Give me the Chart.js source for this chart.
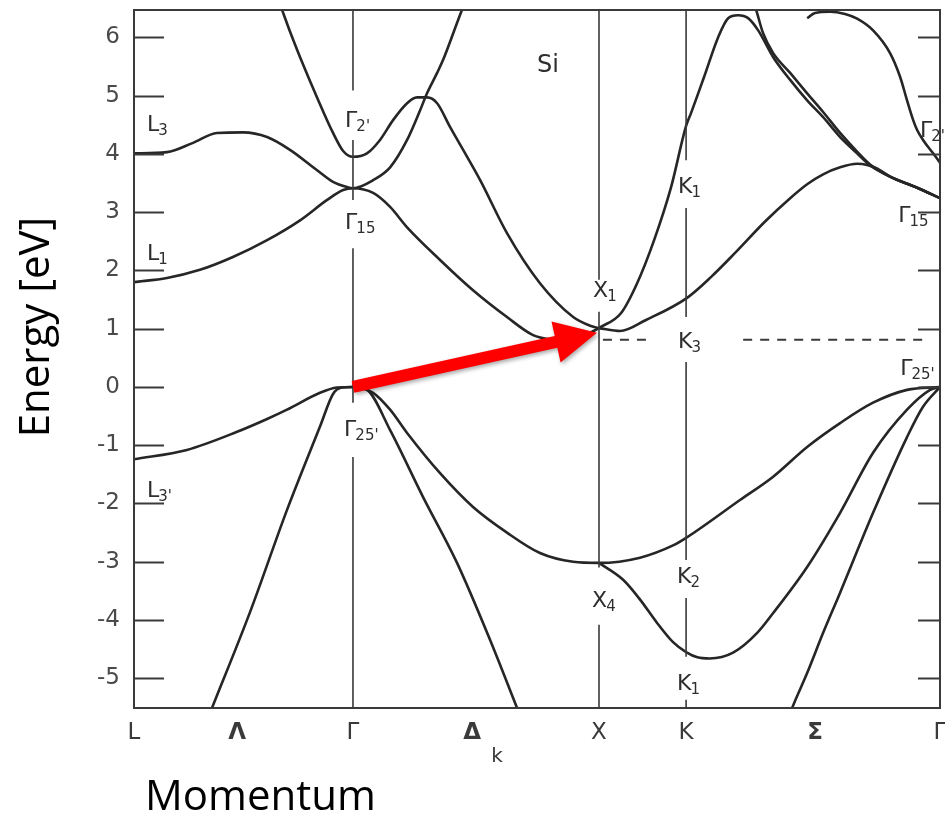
<!DOCTYPE html>
<html>
<head>
<meta charset="utf-8">
<script src="https://cdn.jsdelivr.net/npm/chart.js@4/dist/chart.umd.min.js"></script>
<style>
  html, body { margin: 0; padding: 0; background: #fff; }
</style>
</head>
<body>
<canvas id="bands" width="945" height="813"></canvas>
<script>
// Silicon band structure along L – Γ – X – K – Γ (momentum in units of 2π/a)
const kL = 0, kGamma = 0.890, kX = 1.890, kK = 2.244, kGammaEnd = 3.276;

const xTickValues = [0, 0.419, 0.890, 1.374, 1.890, 2.244, 2.768, 3.276];
const xTickLabels = ['L', 'Λ', 'Γ', 'Δ', 'X', 'K', 'Σ', 'Γ'];
const boldTickLabels = ['Λ', 'Δ', 'Σ'];
const yTickValues = [-5, -4, -3, -2, -1, 0, 1, 2, 3, 4, 5, 6];
const yTickLabels = ['-5', '-4', '-3', '-2', '-1', '0', '1', '2', '3', '4', '5', '6'];
const eMin = -5.51, eMax = 6.47;

// ---- conduction bands ----
// Γ2' branch: steep descent into Γ2', bump along Δ, down to X1
const kG2 = [0.573, 0.602, 0.634, 0.675, 0.744, 0.809, 0.850, 0.890, 0.947, 1.000, 1.053, 1.110, 1.150, 1.191, 1.232, 1.285, 1.354, 1.407, 1.516, 1.650, 1.785, 1.854, 1.890];
const eG2 = [6.80, 6.47, 6.10, 5.66, 4.97, 4.36, 4.05, 3.95, 4.01, 4.24, 4.58, 4.87, 4.97, 4.97, 4.87, 4.46, 3.95, 3.55, 2.64, 1.78, 1.20, 1.05, 1.01];
// L3 → Γ15 → steep Δ branch
const kL3 = [0, 0.134, 0.240, 0.337, 0.443, 0.541, 0.634, 0.744, 0.809, 0.866, 0.890, 0.972, 1.041, 1.110, 1.163, 1.191, 1.232, 1.256, 1.333, 1.350];
const eL3 = [4.01, 4.03, 4.19, 4.36, 4.37, 4.29, 4.07, 3.72, 3.52, 3.43, 3.41, 3.55, 3.77, 4.24, 4.75, 5.04, 5.39, 5.61, 6.47, 6.64];
// L1 → Γ15 → lowest Δ1 band → X1
const kL1 = [0, 0.134, 0.268, 0.402, 0.541, 0.675, 0.785, 0.850, 0.890, 0.972, 1.041, 1.110, 1.244, 1.378, 1.516, 1.622, 1.691, 1.752, 1.813, 1.862, 1.890];
const eL1 = [1.80, 1.87, 2.01, 2.23, 2.52, 2.86, 3.21, 3.38, 3.41, 3.33, 3.09, 2.74, 2.18, 1.66, 1.20, 0.89, 0.82, 0.81, 0.86, 0.95, 1.01];
// X1 → K1 → maximum → Γ15
const kX1a = [1.890, 1.980, 2.045, 2.114, 2.183, 2.244, 2.264, 2.317, 2.374, 2.415, 2.455, 2.496, 2.537, 2.598, 2.667, 2.736, 2.801, 2.870, 2.939, 2.992, 3.073, 3.183, 3.276];
const eX1a = [1.01, 1.27, 1.78, 2.52, 3.43, 4.48, 4.70, 5.32, 6.00, 6.33, 6.38, 6.33, 6.12, 5.66, 5.27, 4.92, 4.63, 4.29, 4.01, 3.80, 3.61, 3.42, 3.24];
// band entering from above near K → Γ15
const kTop = [2.520, 2.533, 2.557, 2.598, 2.667, 2.736, 2.801, 2.870, 2.939, 2.992, 3.073, 3.183, 3.276];
const eTop = [6.59, 6.41, 6.07, 5.73, 5.39, 5.04, 4.72, 4.36, 4.04, 3.82, 3.61, 3.42, 3.24];
// X1 → K3 → Σ → Γ15
const kX1b = [1.890, 1.976, 2.081, 2.248, 2.346, 2.443, 2.565, 2.667, 2.736, 2.801, 2.870, 2.939, 2.980, 3.020, 3.073, 3.183, 3.276];
const eX1b = [1.01, 0.96, 1.15, 1.53, 1.89, 2.30, 2.84, 3.24, 3.48, 3.65, 3.77, 3.83, 3.81, 3.75, 3.61, 3.42, 3.24];
// Σ branch reaching Γ2'
const kSig2 = [2.736, 2.768, 2.829, 2.890, 2.939, 3.004, 3.073, 3.114, 3.142, 3.167, 3.183, 3.207, 3.248, 3.276];
const eSig2 = [6.33, 6.42, 6.44, 6.40, 6.32, 6.12, 5.73, 5.32, 4.92, 4.58, 4.41, 4.24, 4.01, 3.85];

// ---- valence bands ----
// L3' → Γ25' → X4 → K2 → Γ25'
const kV1 = [0, 0.215, 0.419, 0.541, 0.622, 0.756, 0.825, 0.890, 0.972, 1.041, 1.110, 1.244, 1.378, 1.516, 1.650, 1.785, 1.890, 2.057, 2.191, 2.244, 2.463, 2.598, 2.736, 2.870, 3.004, 3.142, 3.276];
const eV1 = [-1.24, -1.08, -0.77, -0.55, -0.39, -0.10, -0.01, 0, -0.10, -0.39, -0.79, -1.48, -2.06, -2.50, -2.85, -3.00, -3.02, -2.93, -2.72, -2.59, -1.94, -1.54, -1.03, -0.62, -0.27, -0.05, 0];
// Λ1 → Γ25' → Δ1 (steep bands)
const kV2 = [0.224, 0.317, 0.472, 0.622, 0.756, 0.809, 0.845, 0.890, 0.947, 1.041, 1.175, 1.313, 1.447, 1.557, 1.589];
const eV2 = [-6.50, -5.51, -3.86, -2.11, -0.68, -0.12, -0.01, 0, -0.05, -0.74, -1.89, -3.02, -4.34, -5.51, -5.85];
// X4 → K1 → Γ25'
const kV3 = [1.890, 1.988, 2.057, 2.126, 2.191, 2.244, 2.290, 2.340, 2.435, 2.533, 2.598, 2.736, 2.870, 3.004, 3.142, 3.236, 3.276];
const eV3 = [-3.02, -3.31, -3.65, -4.05, -4.38, -4.55, -4.64, -4.66, -4.56, -4.22, -3.88, -3.09, -2.16, -1.13, -0.39, -0.05, 0];
// lowest Σ1 band
const kV4 = [2.646, 2.675, 2.736, 2.801, 2.870, 3.004, 3.142, 3.207, 3.276];
const eV4 = [-5.85, -5.51, -4.91, -4.22, -3.53, -2.16, -0.86, -0.34, 0];

// symmetry-point guide lines (null = break around a state label)
const gammaLineE = [6.47, 5.09, null, 4.24, 3.21, null, 2.38, -0.27, null, -1.20, -5.51];
const xLineE = [6.47, 1.84, null, 1.29, -3.10, null, -4.08, -5.51];
const kLineE = [6.47, 3.89, null, 3.07, 1.20, null, 0.43, -2.97, null, -3.62, -4.63, null, -5.37, -5.51];

// conduction-band minimum level
const cbMinK = [1.906, 2.106, 2.300, 2.476, 3.236];
const cbMinE = [0.81, 0.81, null, 0.81, 0.81];

// indirect transition Γ25' → conduction-band minimum
const arrowFrom = [0.890, 0.0];
const arrowTo = [1.882, 0.93];

// state labels: symbol, subscript, position (k, E of text baseline start)
const stateMain = ['L', 'L', 'L', 'Γ', 'Γ', 'Γ', 'X', 'X', 'K', 'K', 'K', 'K', 'Γ', 'Γ', 'Γ'];
const stateSub = ['3', '1', "3'", "2'", '15', "25'", '1', '4', '1', '3', '2', '1', "2'", '15', "25'"];
const stateK = [0.053, 0.053, 0.053, 0.858, 0.858, 0.854, 1.866, 1.862, 2.211, 2.211, 2.207, 2.207, 3.195, 3.106, 3.114];
const stateE = [4.39, 2.18, -1.89, 4.46, 2.71, -0.84, 1.54, -3.77, 3.33, 0.67, -3.36, -5.20, 4.29, 2.83, 0.21];

const zip = (k, e) => k.map((v, i) => ({ x: v, y: e[i] }));
const vertical = (k0, es) => es.map(e => ({ x: k0, y: e }));

const curve = { showLine: true, borderColor: '#262626', borderWidth: 2.6, pointRadius: 0, cubicInterpolationMode: 'monotone', fill: false };
const guide = { showLine: true, borderColor: '#3a3a3a', borderWidth: 1.6, pointRadius: 0, tension: 0, fill: false, spanGaps: false };

const datasets = [
  { ...guide, data: vertical(kGamma, gammaLineE) },
  { ...guide, data: vertical(kX, xLineE) },
  { ...guide, data: vertical(kK, kLineE) },
  { ...guide, borderWidth: 2, borderDash: [9, 8], data: zip(cbMinK, cbMinE) },
  { ...curve, data: zip(kG2, eG2) },
  { ...curve, data: zip(kL3, eL3) },
  { ...curve, data: zip(kL1, eL1) },
  { ...curve, data: zip(kX1a, eX1a) },
  { ...curve, data: zip(kTop, eTop) },
  { ...curve, data: zip(kX1b, eX1b) },
  { ...curve, data: zip(kSig2, eSig2) },
  { ...curve, data: zip(kV1, eV1) },
  { ...curve, data: zip(kV2, eV2) },
  { ...curve, data: zip(kV3, eV3) },
  { ...curve, data: zip(kV4, eV4) }
];

const decor = {
  id: 'decor',
  afterDatasetsDraw(chart) {
    const { ctx, chartArea: a, scales: { x, y } } = chart;
    ctx.save();

    // frame and inward tick marks
    ctx.strokeStyle = '#3a3a3a';
    ctx.lineWidth = 2;
    ctx.strokeRect(a.left, a.top, a.right - a.left, a.bottom - a.top);
    ctx.beginPath();
    yTickValues.forEach(v => {
      const py = Math.round(y.getPixelForValue(v)) + 0.5;
      ctx.moveTo(a.left, py); ctx.lineTo(a.left + 30, py);
      ctx.moveTo(a.right - 22, py); ctx.lineTo(a.right, py);
    });
    ctx.stroke();

    // state labels with subscripts
    ctx.fillStyle = '#2e2e2e';
    ctx.textBaseline = 'alphabetic';
    ctx.textAlign = 'left';
    stateMain.forEach((m, i) => {
      const px = x.getPixelForValue(stateK[i]);
      const py = y.getPixelForValue(stateE[i]);
      ctx.font = '22px "DejaVu Sans"';
      ctx.fillText(m, px, py);
      const w = ctx.measureText(m).width;
      ctx.font = '15px "DejaVu Sans"';
      ctx.fillText(stateSub[i], px + w - 1, py + 4);
    });

    // material name
    ctx.font = '24px "DejaVu Sans"';
    ctx.fillText('Si', x.getPixelForValue(1.638), y.getPixelForValue(5.40));

    // subscript k under the Δ direction label
    ctx.fillStyle = '#3a3a3a';
    ctx.font = '20px "DejaVu Sans"';
    ctx.textAlign = 'center';
    ctx.fillText('k', x.getPixelForValue(1.476), a.bottom + 54);

    // transition arrow
    const p0x = x.getPixelForValue(arrowFrom[0]), p0y = y.getPixelForValue(arrowFrom[1]);
    const p1x = x.getPixelForValue(arrowTo[0]), p1y = y.getPixelForValue(arrowTo[1]);
    const len = Math.hypot(p1x - p0x, p1y - p0y);
    const hl = 42, hw = 21, sw = 6;
    ctx.save();
    ctx.translate(p0x, p0y);
    ctx.rotate(Math.atan2(p1y - p0y, p1x - p0x));
    ctx.shadowColor = 'rgba(0,0,0,0.35)';
    ctx.shadowBlur = 4;
    ctx.shadowOffsetX = 1.5;
    ctx.shadowOffsetY = 2;
    ctx.beginPath();
    ctx.moveTo(0, -sw);
    ctx.lineTo(len - hl, -sw);
    ctx.lineTo(len - hl, -hw);
    ctx.lineTo(len, 0);
    ctx.lineTo(len - hl, hw);
    ctx.lineTo(len - hl, sw);
    ctx.lineTo(0, sw);
    ctx.closePath();
    ctx.fillStyle = '#ff0000';
    ctx.fill();
    ctx.restore();

    // axis titles
    ctx.fillStyle = '#000';
    ctx.font = '42px "Open Sans"';
    ctx.textAlign = 'left';
    ctx.textBaseline = 'alphabetic';
    ctx.fillText('Momentum', a.left + 11, 810);
    ctx.save();
    ctx.translate(49, 327);
    ctx.rotate(-Math.PI / 2);
    ctx.textAlign = 'center';
    ctx.fillText('Energy [eV]', 0, 0);
    ctx.restore();

    ctx.restore();
  }
};

new Chart(document.getElementById('bands'), {
  type: 'scatter',
  data: { datasets },
  options: {
    responsive: false,
    animation: false,
    devicePixelRatio: 1,
    events: [],
    layout: { padding: { top: 10, right: 5, left: 0, bottom: 0 } },
    plugins: { legend: { display: false }, tooltip: { enabled: false } },
    scales: {
      x: {
        type: 'linear', min: kL, max: kGammaEnd,
        grid: { display: false, drawTicks: false },
        border: { display: false },
        afterBuildTicks: s => { s.ticks = xTickValues.map(v => ({ value: v })); },
        afterFit: s => { s.height = 105; s.paddingLeft = 0; s.paddingRight = 0; },
        ticks: {
          autoSkip: false, maxRotation: 0, minRotation: 0, padding: 11, color: '#3a3a3a',
          callback: (v, i) => xTickLabels[i],
          font: c => ({ family: 'DejaVu Sans', size: 23, weight: boldTickLabels.includes(xTickLabels[c.index]) ? 'bold' : 'normal' })
        }
      },
      y: {
        type: 'linear', min: eMin, max: eMax,
        grid: { display: false, drawTicks: false },
        border: { display: false },
        afterBuildTicks: s => { s.ticks = yTickValues.map(v => ({ value: v })); },
        afterFit: s => { s.width = 134; s.paddingTop = 0; s.paddingBottom = 0; },
        ticks: {
          padding: 14, color: '#4a4a4a',
          callback: (v, i) => yTickLabels[i],
          font: { family: 'DejaVu Sans', size: 23 }
        }
      }
    }
  },
  plugins: [decor]
});
</script>
</body>
</html>
